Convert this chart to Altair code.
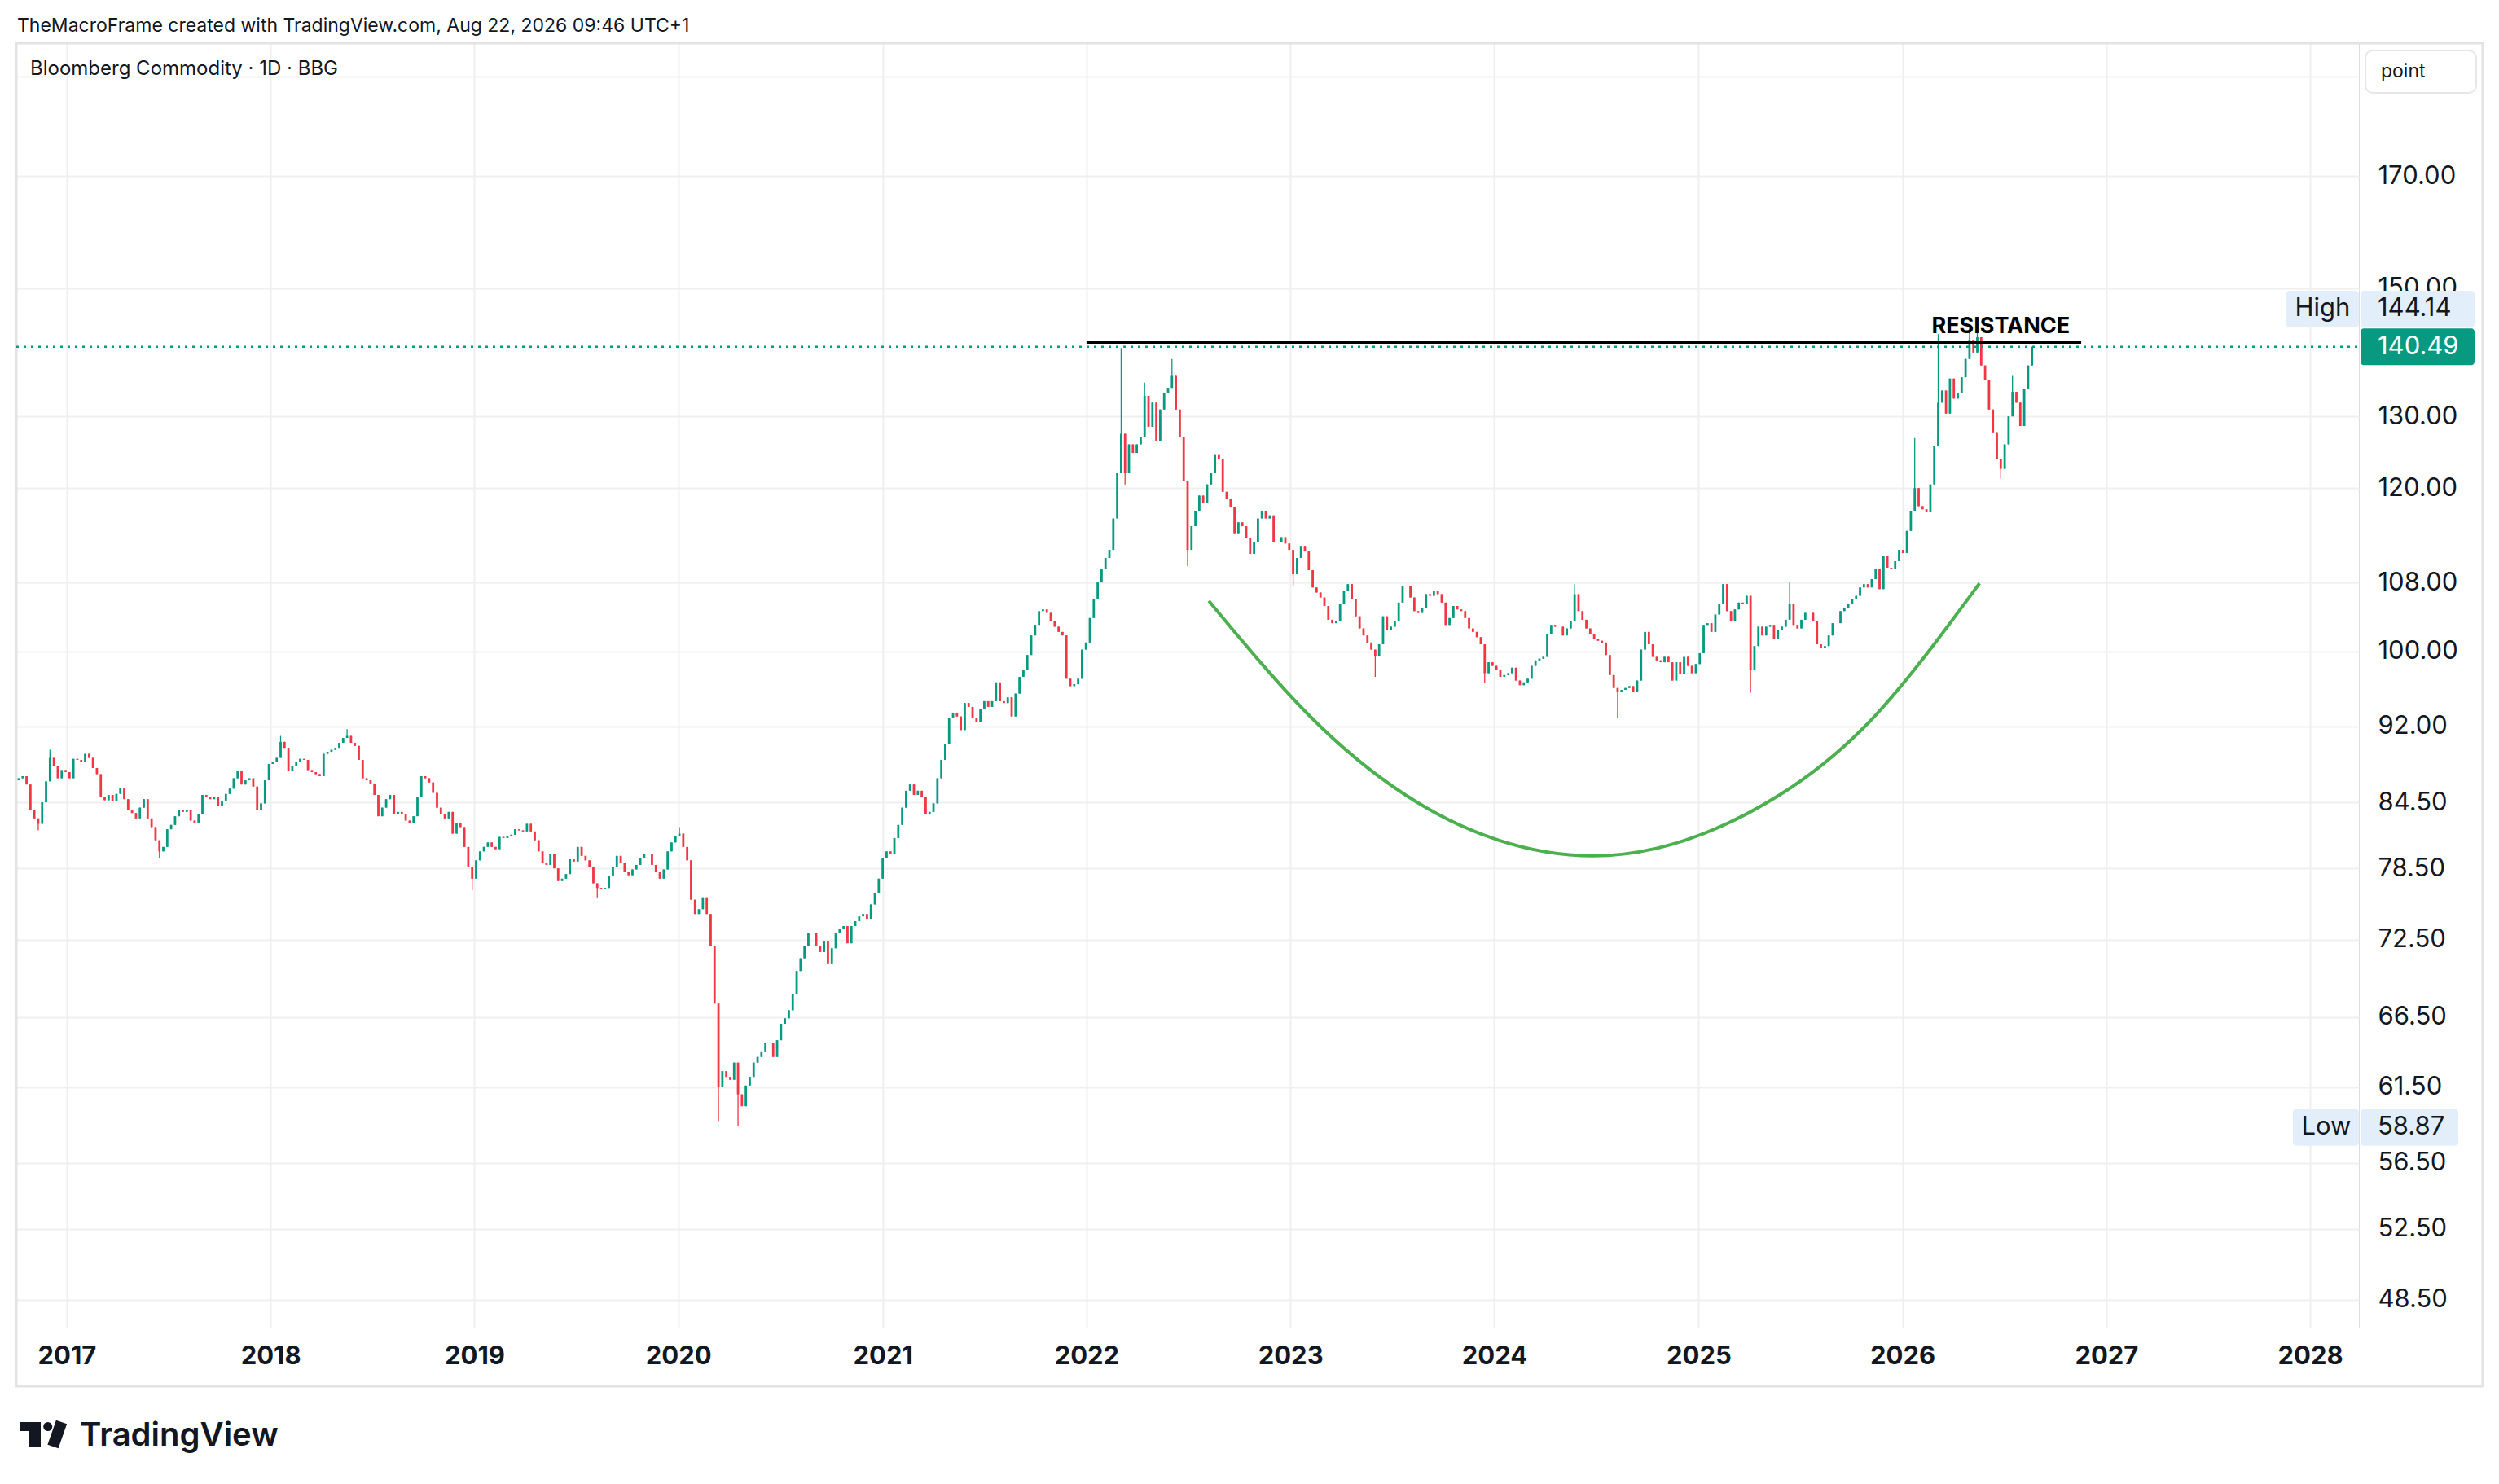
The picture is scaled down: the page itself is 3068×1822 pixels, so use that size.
import math
from datetime import date, timedelta

import altair as alt
import pandas as pd

# ---------------- data ----------------
TITLE = "TheMacroFrame created with TradingView.com, Aug 22, 2026 09:46 UTC+1"
LEGEND = "Bloomberg Commodity · 1D · BBG"

FIRST_WEEK = date(2016, 10, 7)   # weekly candles (Friday closes)
FIRST_OPEN = 86.6

CLOSES = [
    86.8, 87.0, 86.2, 83.8, 83.0, 82.5, 84.5, 86.5, 88.8, 88.0,
    86.8, 87.6, 87.4, 86.8, 88.7, 88.6, 88.4, 89.2, 88.8, 87.8,
    87.2, 85.0, 84.7, 85.2, 84.6, 85.3, 85.9, 84.8, 83.8, 83.5,
    83.0, 84.0, 84.8, 83.0, 82.2, 81.0, 80.0, 80.4, 82.0, 82.4,
    83.2, 83.8, 83.6, 83.8, 82.8, 82.6, 83.4, 85.2, 85.0, 84.8,
    85.0, 84.2, 84.6, 85.3, 85.8, 86.8, 87.5, 86.2, 86.6, 86.8,
    86.0, 83.8, 84.4, 86.6, 88.2, 88.4, 88.8, 90.4, 89.8, 87.5,
    88.0, 88.4, 88.7, 88.6, 87.6, 87.4, 87.2, 87.0, 89.2, 89.4,
    89.6, 89.8, 90.3, 90.8, 91.0, 90.3, 90.0, 88.6, 86.8, 86.6,
    86.3, 85.2, 83.2, 84.0, 84.8, 85.2, 83.4, 83.6, 83.4, 82.8,
    82.6, 83.2, 85.0, 87.0, 86.8, 86.4, 85.4, 84.0, 83.4, 83.0,
    83.6, 81.6, 82.6, 82.2, 80.4, 78.6, 77.6, 79.2, 80.0, 80.4,
    80.8, 80.4, 80.2, 81.3, 81.2, 81.4, 81.5, 82.0, 81.9, 81.8,
    82.5, 81.8, 81.0, 80.0, 79.0, 78.8, 79.8, 78.5, 77.4, 77.6,
    78.0, 79.3, 79.1, 80.4, 79.6, 79.2, 78.6, 77.2, 76.8, 76.7,
    76.8, 77.8, 78.6, 79.6, 79.0, 78.2, 77.9, 78.4, 78.8, 79.4,
    79.8, 79.8, 78.8, 78.2, 77.6, 78.4, 80.0, 80.8, 81.4, 81.6,
    80.4, 79.2, 75.8, 74.6, 75.0, 76.0, 74.6, 72.0, 67.5, 61.5,
    62.6, 62.2, 62.0, 63.2, 61.0, 60.2, 61.6, 62.2, 63.2, 63.6,
    64.0, 64.6, 64.6, 63.6, 64.8, 66.0, 66.4, 67.0, 68.2, 70.0,
    71.0, 72.0, 73.0, 73.0, 72.0, 71.5, 72.4, 70.6, 71.8, 73.0,
    73.4, 73.6, 72.2, 73.6, 74.0, 74.4, 74.6, 74.2, 75.4, 76.4,
    77.6, 79.4, 80.0, 79.8, 81.2, 82.4, 84.0, 85.6, 86.2, 85.2,
    85.6, 85.0, 83.4, 83.6, 84.4, 86.8, 88.6, 90.2, 92.8, 93.4,
    93.0, 91.6, 94.4, 94.0, 92.8, 92.4, 93.8, 94.6, 94.0, 94.6,
    96.6, 94.6, 94.4, 95.0, 93.0, 95.4, 97.2, 98.0, 99.6, 101.8,
    103.0, 104.6, 104.8, 104.4, 103.4, 102.8, 102.2, 101.8, 97.0, 96.2,
    96.4, 97.0, 100.2, 101.0, 103.8, 106.0, 108.0, 109.6, 111.0, 112.0,
    116.0, 122.0, 127.5, 122.0, 126.0, 124.8, 126.0, 127.0, 133.0, 128.5,
    132.0, 126.5, 131.0, 133.5, 134.2, 136.0, 131.0, 127.0, 121.0, 112.0,
    115.0, 117.0, 119.0, 118.0, 120.5, 122.0, 124.5, 124.0, 119.5, 118.5,
    117.5, 114.0, 115.5, 115.0, 113.5, 111.5, 113.0, 116.0, 117.0, 116.0,
    116.4, 113.0, 113.0, 113.6, 112.8, 112.0, 109.0, 111.0, 112.5, 111.8,
    109.5, 107.4, 106.8, 106.2, 105.2, 103.6, 103.2, 103.4, 105.4, 107.0,
    107.8, 106.0, 104.0, 102.6, 101.8, 101.0, 100.2, 99.5, 100.8, 104.0,
    102.4, 102.8, 103.4, 105.6, 107.6, 107.6, 106.2, 104.6, 104.4, 105.0,
    106.6, 106.4, 107.0, 106.6, 105.6, 103.0, 103.8, 105.2, 104.8, 104.6,
    103.8, 102.6, 102.2, 101.6, 100.8, 97.6, 98.8, 98.4, 98.0, 97.2,
    97.4, 97.6, 98.2, 96.8, 96.3, 96.6, 97.0, 98.4, 99.0, 99.2,
    99.4, 102.0, 103.0, 102.8, 102.8, 101.8, 102.6, 103.4, 106.6, 104.6,
    103.6, 102.6, 102.0, 101.4, 101.2, 101.0, 99.6, 97.4, 96.0, 95.6,
    95.8, 96.0, 96.2, 95.6, 96.8, 100.2, 102.2, 100.8, 99.4, 99.0,
    98.8, 99.4, 98.8, 96.8, 98.8, 97.5, 99.4, 98.4, 97.6, 98.6,
    99.8, 103.0, 103.2, 102.2, 104.2, 105.4, 107.8, 104.6, 103.4, 104.8,
    105.6, 105.4, 106.4, 98.0, 100.6, 102.8, 101.8, 102.8, 103.0, 101.4,
    102.4, 102.8, 103.6, 105.4, 103.0, 102.6, 103.6, 104.4, 104.4, 103.4,
    100.8, 100.4, 100.6, 101.8, 103.2, 103.2, 104.6, 105.0, 105.4, 106.0,
    106.4, 107.4, 107.8, 107.4, 108.4, 109.6, 107.2, 111.2, 109.8, 109.6,
    110.6, 112.0, 111.6, 114.4, 117.0, 120.0, 117.6, 117.2, 116.8, 120.5,
    125.8, 132.0, 133.8, 130.4, 135.6, 132.6, 133.4, 135.8, 138.6, 141.6,
    139.6, 142.0, 137.6, 135.4, 131.0, 127.6, 124.0, 122.6, 126.0, 130.0,
    133.6, 132.0, 128.6, 134.0, 137.6, 140.49,
]

# notable wick extremes (week index -> price)
HIGH_WICKS = {8: 89.6, 67: 91.0, 84: 91.7, 169: 82.2, 282: 140.3, 288: 135.0,
              295: 138.6, 398: 107.8, 453: 108.0, 485: 126.9, 491: 142.5,
              499: 143.8, 501: 144.14, 510: 136.0}
LOW_WICKS = {5: 81.9, 36: 79.4, 116: 76.6, 148: 76.0, 179: 59.2, 184: 58.87,
             283: 120.5, 299: 110.0, 326: 107.6, 347: 97.2, 375: 96.5,
             409: 92.8, 443: 95.5, 507: 121.3}

Y_TICKS = [48.5, 52.5, 56.5, 61.5, 66.5, 72.5, 78.5, 84.5, 92.0, 100.0,
           108.0, 120.0, 130.0, 150.0, 170.0, 190.0]
YEARS = list(range(2017, 2029))

RESISTANCE_LEVEL = 141.15
RESISTANCE_START = "2022-01-01"
RESISTANCE_END = "2026-11-17"
RESISTANCE_LABEL_DATE = "2026-06-26"

CUP_DATES = ["2022-08-08", "2023-02-02", "2023-07-26", "2024-01-09", "2024-06-25",
             "2024-12-08", "2025-05-26", "2025-11-15", "2026-05-19"]
CUP_PRICES = [105.8, 93.2, 85.2, 81.0, 79.6, 81.0, 85.2, 93.2, 107.9]

# ---------------- layout / style ----------------
W, H = 2876, 1577
Y_MIN, Y_MAX = 47.02, 197.15
K = H / math.log(Y_MAX / Y_MIN)

GREEN = "#089981"
RED = "#F23645"
INK = "#131722"
GRID = "#EFEFEF"
BORDER = "#E3E3E3"
CHIP = "#E3EEFB"
CUP = "#4CAF50"
FONT = "Inter"


def shift(price, px):
    """price that sits px pixels below `price` on the log axis"""
    return price * math.exp(-px / K)


def ts(d):
    return d + "T00:00:00"


rows = []
prev = FIRST_OPEN
for i, c in enumerate(CLOSES):
    o = prev
    hi = max(o, c, HIGH_WICKS.get(i, 0.0))
    lo = min(o, c, LOW_WICKS.get(i, 1e9))
    rows.append(dict(date=ts((FIRST_WEEK + timedelta(days=7 * i)).isoformat()),
                     open=o, close=c, high=hi, low=lo,
                     dir="up" if c >= o else "down"))
    prev = c
candles = pd.DataFrame(rows)
LAST = CLOSES[-1]
HIGH = float(candles["high"].max())
LOW = float(candles["low"].min())

x_scale = alt.Scale(domain=[alt.DateTime(year=2016, month=10, date=10),
                            alt.DateTime(year=2028, month=3, date=21)])
y_scale = alt.Scale(type="log", domain=[Y_MIN, Y_MAX])

x_axis = alt.Axis(values=[alt.DateTime(year=y, month=1, date=1) for y in YEARS],
                  format="%Y", labelFontSize=31, labelFontWeight="bold",
                  labelColor=INK, labelFont=FONT, labelPadding=35,
                  labelBaseline="middle", ticks=False, tickSize=0, domain=False,
                  grid=True, gridColor=GRID, gridWidth=2, labelOverlap=False,
                  labelFlush=False)
y_axis = alt.Axis(orient="right", values=Y_TICKS,
                  labelExpr="datum.value > 180 ? '' : format(datum.value, '.2f')",
                  labelAlign="left", labelBaseline="middle", labelPadding=23,
                  labelFontSize=31, labelColor=INK, labelFont=FONT,
                  ticks=False, tickSize=0, domain=False, grid=True,
                  gridColor=GRID, gridWidth=2, labelOverlap=False, labelFlush=False)


def xenc(f):
    return alt.X(f"{f}:T", scale=x_scale, axis=x_axis, title=None)


def yenc(f):
    return alt.Y(f"{f}:Q", scale=y_scale, axis=y_axis, title=None)


one = pd.DataFrame({"k": [0]})
color = alt.Color("dir:N", scale=alt.Scale(domain=["up", "down"], range=[GREEN, RED]),
                  legend=None)

border = alt.Chart(one).mark_rect(fillOpacity=0, stroke=BORDER, strokeWidth=3).encode(
    x=alt.value(0), x2=alt.value(3028), y=alt.value(0), y2=alt.value(1649))

wicks = alt.Chart(candles).mark_rule(strokeWidth=1.3, clip=True).encode(
    x=xenc("date"), y=yenc("low"), y2="high", color=color)
bodies = alt.Chart(candles).mark_bar(size=2.8, clip=True).encode(
    x=xenc("date"), y=yenc("open"), y2="close", color=color)

last_line = alt.Chart(pd.DataFrame({"price": [LAST]})).mark_rule(
    color=GREEN, strokeDash=[3, 6], strokeWidth=2.5).encode(
    y=yenc("price"), x=alt.value(0), x2=alt.value(W))

res_df = pd.DataFrame({"start": [ts(RESISTANCE_START)], "end": [ts(RESISTANCE_END)],
                       "level": [RESISTANCE_LEVEL]})
res_line = alt.Chart(res_df).mark_rule(color="#000000", strokeWidth=3).encode(
    x=xenc("start"), x2="end", y=yenc("level"))
res_text = alt.Chart(pd.DataFrame({"date": [ts(RESISTANCE_LABEL_DATE)],
                                   "level": [RESISTANCE_LEVEL]})).mark_text(
    text="RESISTANCE", font=FONT, fontSize=27, fontWeight="bold", color="#000000",
    align="center", baseline="alphabetic", dy=-12).encode(
    x=xenc("date"), y=yenc("level"))

cup = alt.Chart(pd.DataFrame({"date": [ts(d) for d in CUP_DATES], "price": CUP_PRICES})
                ).mark_line(color=CUP, strokeWidth=4, interpolate="natural").encode(
    x=xenc("date"), y=yenc("price"))


def chip_rect(price, offset, x0, x1, fill):
    df = pd.DataFrame({"top": [shift(price, offset - 22.5)],
                       "bot": [shift(price, offset + 22.5)]})
    return alt.Chart(df).mark_rect(fill=fill, cornerRadius=4).encode(
        x=alt.value(x0), x2=alt.value(x1), y=yenc("top"), y2="bot")


def chip_text(price, offset, x, label, align, fill):
    df = pd.DataFrame({"price": [price]})
    return alt.Chart(df).mark_text(text=label, font=FONT, fontSize=31, color=fill,
                                   align=align, baseline="middle", dy=offset).encode(
        x=alt.value(x), y=yenc("price"))


HIGH_OFF = -18.1
LOW_OFF = 1.6
chips = [
    chip_rect(HIGH, HIGH_OFF, 2787, 2876, CHIP),
    chip_rect(HIGH, HIGH_OFF, 2878, 3018, CHIP),
    chip_text(HIGH, HIGH_OFF, 2831.5, "High", "center", INK),
    chip_text(HIGH, HIGH_OFF, 2899, f"{HIGH:.2f}", "left", INK),
    chip_rect(LAST, 0, 2878, 3018, GREEN),
    chip_text(LAST, 0, 2899, f"{LAST:.2f}", "left", "#FFFFFF"),
    chip_rect(LOW, LOW_OFF, 2795, 2876, CHIP),
    chip_rect(LOW, LOW_OFF, 2878, 2998, CHIP),
    chip_text(LOW, LOW_OFF, 2836, "Low", "center", INK),
    chip_text(LOW, LOW_OFF, 2899, f"{LOW:.2f}", "left", INK),
]

point_box = alt.Chart(one).mark_rect(fill="#FFFFFF", stroke="#E6E6E6", strokeWidth=2,
                                     cornerRadius=9).encode(
    x=alt.value(2884), x2=alt.value(3020), y=alt.value(9), y2=alt.value(61))
point_text = alt.Chart(one).mark_text(text="point", font=FONT, fontSize=23, color=INK,
                                      align="left", baseline="middle").encode(
    x=alt.value(2903), y=alt.value(35))

header = alt.Chart(one).mark_text(text=TITLE, font=FONT, fontSize=23, color=INK,
                                  align="left", baseline="middle").encode(
    x=alt.value(1), y=alt.value(-21))
legend = alt.Chart(one).mark_text(text=LEGEND, font=FONT, fontSize=24, color=INK,
                                  align="left", baseline="middle").encode(
    x=alt.value(17), y=alt.value(32))

# TradingView logo
logo_bar = alt.Chart(one).mark_rect(color=INK).encode(
    x=alt.value(4), x2=alt.value(30), y=alt.value(1693), y2=alt.value(1704))
logo_stem = alt.Chart(one).mark_rect(color=INK).encode(
    x=alt.value(16), x2=alt.value(30), y=alt.value(1693), y2=alt.value(1723))
logo_dot = alt.Chart(one).mark_point(shape="circle", filled=True, opacity=1,
                                     color=INK, size=121).encode(
    x=alt.value(38.7), y=alt.value(1698.5))
logo_slash = alt.Chart(one).mark_rule(color=INK, strokeWidth=14, strokeCap="butt").encode(
    x=alt.value(55.5), x2=alt.value(45), y=alt.value(1693), y2=alt.value(1723))
logo_text = alt.Chart(one).mark_text(text="TradingView", font=FONT, fontSize=40,
                                     fontWeight=600, color=INK, align="left",
                                     baseline="alphabetic").encode(
    x=alt.value(78), y=alt.value(1722))

chart = alt.layer(
    border, wicks, bodies, last_line, res_line, res_text, cup, *chips,
    point_box, point_text, header, legend,
    logo_bar, logo_stem, logo_dot, logo_slash, logo_text,
).properties(
    width=W, height=H,
    padding={"left": 12, "top": 45, "right": 160, "bottom": 175},
    autosize=alt.AutoSizeParams(type="none"),
).configure_view(stroke=None).configure(background="#FFFFFF", font=FONT)

chart.save("out.html", embed_options={"renderer": "svg", "actions": False})
